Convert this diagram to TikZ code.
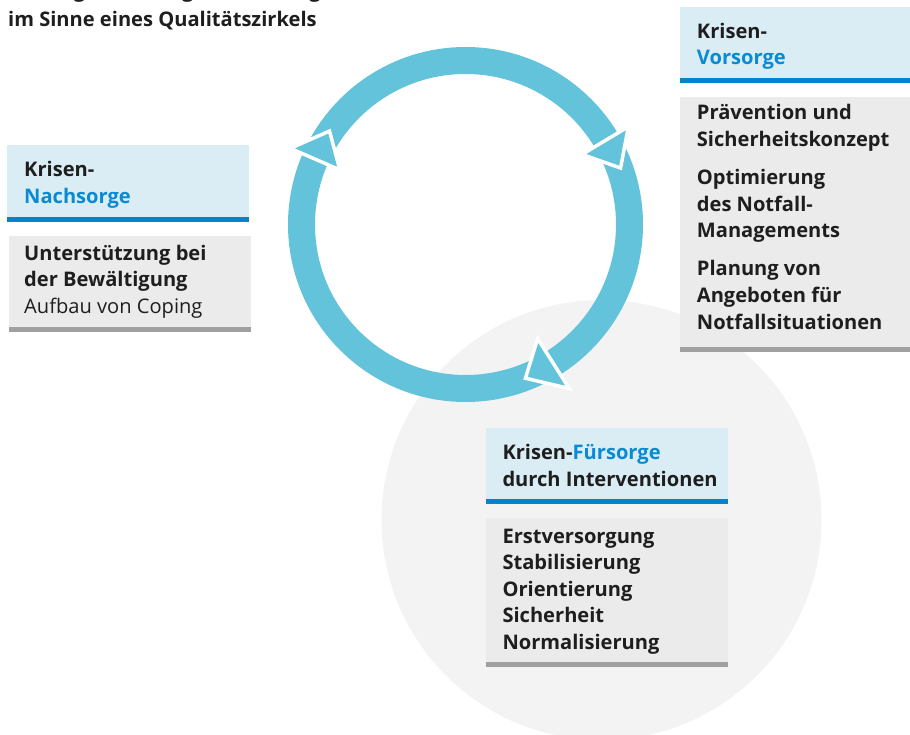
\documentclass[tikz,border=0pt]{standalone}
\usepackage{fontspec}
\setmainfont{Open Sans}
\usetikzlibrary{calc}

\definecolor{ringblue}{HTML}{62C3DA}
\definecolor{headfill}{HTML}{DAEDF5}
\definecolor{barblue}{HTML}{0085CC}
\definecolor{accent}{HTML}{0A8AD2}
\definecolor{bodyfill}{HTML}{EBEBEB}
\definecolor{bargrey}{HTML}{A0A0A0}
\definecolor{disc}{HTML}{F3F3F3}
\definecolor{ink}{HTML}{1E1E1E}

\begin{document}
\begin{tikzpicture}[x=1pt,y=1pt,
  % multi-line text blocks are placed by the baseline of their last line
  txt/.style={anchor=base west, inner sep=0pt, align=left, text=ink,
    font=\fontsize{20.1}{26.6}\selectfont\bfseries},
  headpanel/.style={fill=headfill},
  headbar/.style={fill=barblue},
  bodypanel/.style={fill=bodyfill},
  bodybar/.style={fill=bargrey},
  arrowhead/.style={fill=ringblue, draw=white, line width=3.5pt}]
\useasboundingbox (0,0) rectangle (910,-735);

% background disc behind the care phase
\fill[disc] (601.5,-520) circle (220);

% cycle ring with three arrow heads
\coordinate (c) at (465.5,-224.5);
\draw[ringblue, line width=27pt] (c) circle (164);
\foreach \b/\ri/\ro in {156.5/137/191, 31/136/190, -57.7/135/194}{
  \filldraw[arrowhead] ($(c)+(\b:\ro)$) -- ($(c)+({\b-11}:165)$)
    -- ($(c)+(\b:\ri)$) -- cycle;
}

% title
\node[txt] (title) at (8,-27) {Vorsorge – Fürsorge – Nachsorge\\[3pt]im Sinne eines Qualitätszirkels};

% Vorsorge panel
\fill[headpanel] (680,-7) rectangle (910,-78.3);
\fill[headbar] (680,-78.3) rectangle (910,-82.7);
\fill[bodypanel] (680,-96.7) rectangle (910,-346.7);
\fill[bodybar] (680,-346.7) rectangle (910,-351.7);
\node[txt] (vorhead) at (696.7,-65) {Krisen-\\\textcolor{accent}{Vorsorge}};
\node[txt] (vorbody) at (696.7,-329) {Prävention und\\Sicherheitskonzept\\[11.5pt]
  Optimierung\\des Notfall-\\Managements\\[11.5pt]
  Planung von\\Angeboten für\\Notfallsituationen};

% Nachsorge panel
\fill[headpanel] (7,-145) rectangle (249,-217.3);
\fill[headbar] (7,-217.3) rectangle (249,-221.7);
\fill[bodypanel] (9,-236) rectangle (251,-327.3);
\fill[bodybar] (9,-327.3) rectangle (251,-331.7);
\node[txt] (nachhead) at (24,-203.5) {Krisen-\\\textcolor{accent}{Nachsorge}};
\node[txt] (nachbody) at (24,-313.5) {Unterstützung bei\\der Bewältigung\\{\mdseries Aufbau von Coping}};

% Fürsorge panel
\fill[headpanel] (486,-427.7) rectangle (728,-499);
\fill[headbar] (486,-499) rectangle (728,-503.7);
\fill[bodypanel] (486,-518) rectangle (728,-662.3);
\fill[bodybar] (486,-662.3) rectangle (728,-667);
\node[txt] (fuerhead) at (502.3,-486.5) {Krisen-\textcolor{accent}{Fürsorge}\\durch Interventionen};
\node[txt] (fuerbody) at (502.3,-649.5) {Erstversorgung\\Stabilisierung\\Orientierung\\Sicherheit\\Normalisierung};
\end{tikzpicture}
\end{document}
